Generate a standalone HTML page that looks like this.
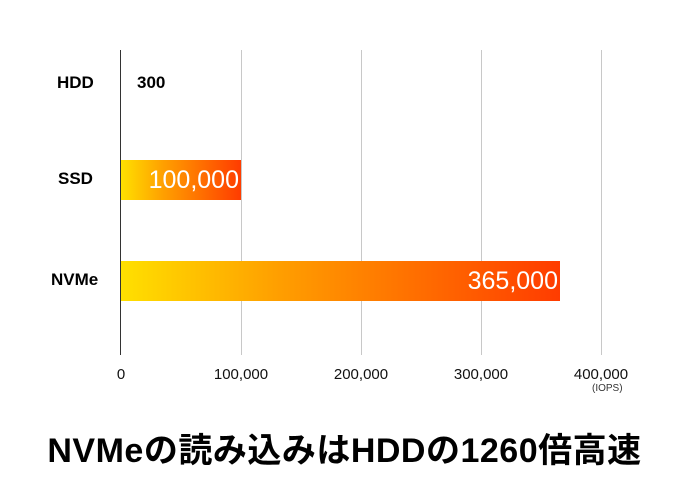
<!DOCTYPE html>
<html><head><meta charset="utf-8"><style>
body{margin:0;width:689px;height:500px;background:#fff;overflow:hidden;font-family:"Liberation Sans","Noto Sans CJK JP",sans-serif}
.a{position:absolute}
.g{position:absolute;top:50px;height:305px;width:1px;background:#c8c8c8}
.lab{position:absolute;font-weight:bold;font-size:17px;color:#000}
.bar{position:absolute;left:121px;height:40px;background:linear-gradient(to right,#ffe000,#ffa000 35%,#ff3c00)}
.bt{position:absolute;color:#fff;font-size:25px;text-align:right}
.t{position:absolute;top:366px;font-size:15px;color:#111;width:100px;text-align:center}
</style></head><body>
<div class="g" style="left:241px"></div>
<div class="g" style="left:361px"></div>
<div class="g" style="left:481px"></div>
<div class="g" style="left:601px"></div>
<div class="a" style="left:120px;top:50px;width:1px;height:305px;background:#333"></div>
<div class="lab" style="left:57px;top:73px">HDD</div>
<div class="lab" style="left:137px;top:73px">300</div>
<div class="lab" style="left:58px;top:169px">SSD</div>
<div class="lab" style="left:51px;top:270px">NVMe</div>
<div class="bar" style="top:160px;width:120px"></div>
<div class="bar" style="top:261px;width:439px"></div>
<div class="bt" style="left:121px;width:118px;top:166px">100,000</div>
<div class="bt" style="left:121px;width:437px;top:267px">365,000</div>
<div class="t" style="left:71px">0</div>
<div class="t" style="left:191px">100,000</div>
<div class="t" style="left:311px">200,000</div>
<div class="t" style="left:431px">300,000</div>
<div class="t" style="left:551px">400,000</div>
<div class="a" style="left:592px;top:383px;font-size:10px;color:#333">(IOPS)</div>
<div class="a" style="left:0;width:689px;text-align:center;top:423px;font-size:34px;letter-spacing:0.5px;font-weight:bold;color:#000">NVMeの読み込みはHDDの1260倍高速</div>
</body></html>
